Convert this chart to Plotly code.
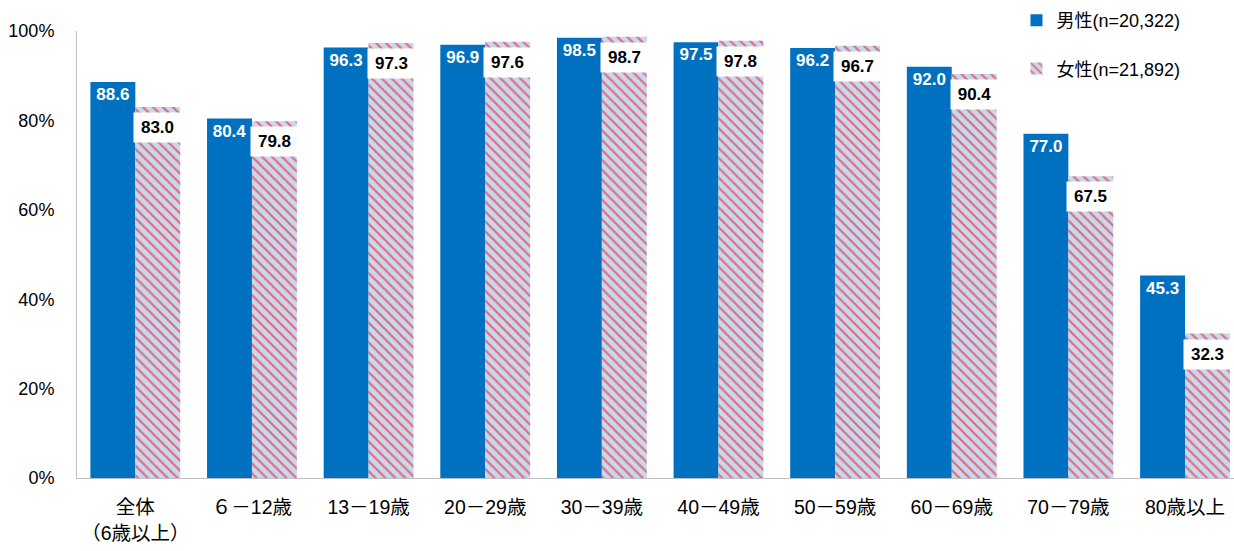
import plotly.graph_objects as go

categories = ["全体<br>（6歳以上）", "６－12歳", "13－19歳", "20－29歳", "30－39歳",
              "40－49歳", "50－59歳", "60－69歳", "70－79歳", "80歳以上"]
male = [88.6, 80.4, 96.3, 96.9, 98.5, 97.5, 96.2, 92.0, 77.0, 45.3]
female = [83.0, 79.8, 97.3, 97.6, 98.7, 97.8, 96.7, 90.4, 67.5, 32.3]
male_name = "男性(n=20,322)"
female_name = "女性(n=21,892)"
yticks = [0, 20, 40, 60, 80, 100]
yticklabels = ["0%", "20%", "40%", "60%", "80%", "100%"]

FONT = "Liberation Sans, Arial, Noto Sans CJK JP, sans-serif"
BLUE = "#0070c0"
bargap = 0.23
xpos = list(range(len(categories)))
half = (1 - bargap) / 4  # center offset of each bar within group

fig = go.Figure()
fig.add_trace(go.Bar(
    x=xpos, y=male, name=male_name, legendgroup="m",
    marker=dict(color=BLUE, line=dict(width=0)),
    text=[f"{v:.1f}" for v in male], textposition="inside",
    insidetextanchor="end", textangle=0,
    textfont=dict(color="white", size=17, family=FONT, weight="bold"),
    hoverinfo="skip",
))
fig.add_trace(go.Bar(
    x=xpos, y=female, name=female_name, legendgroup="f",
    marker=dict(color="#c6d9f1", line=dict(width=0),
                pattern=dict(shape="\\", fgcolor="#ff0000", bgcolor="#c6d9f1",
                             size=7, solidity=0.32)),
    hoverinfo="skip",
))

for i, v in enumerate(female):
    fig.add_annotation(
        x=xpos[i] + half, y=v, xref="x", yref="y",
        text=f"<b>{v:.1f}</b>", showarrow=False,
        yanchor="top", yshift=-5, width=45, height=27,
        bgcolor="white", font=dict(size=17, color="black", family=FONT),
    )

fig.update_layout(
    width=1234, height=551,
    margin=dict(l=77, r=0, t=31, b=73),
    paper_bgcolor="white", plot_bgcolor="white",
    barmode="group", bargap=bargap, bargroupgap=0,
    font=dict(family=FONT, size=18, color="black"),
    legend=dict(x=0.812, y=1.065, xanchor="left", yanchor="top",
                bgcolor="rgba(0,0,0,0)", font=dict(size=18),
                tracegroupgap=22, itemwidth=30, traceorder="grouped"),
    showlegend=True,
)
fig.update_xaxes(
    tickmode="array", tickvals=xpos, ticktext=categories,
    range=[-0.5, 9.42], showgrid=False, zeroline=False,
    showline=True, linecolor="#bfbfbf", linewidth=1,
    ticks="", tickfont=dict(size=19.5), ticklabelstandoff=12,
)
fig.update_yaxes(
    range=[0, 100], tickvals=yticks, ticktext=yticklabels,
    showgrid=False, zeroline=False, showline=True,
    linecolor="#bfbfbf", linewidth=1, ticks="", tickfont=dict(size=18),
    ticklabelstandoff=18,
)

fig.write_html("out.html")
